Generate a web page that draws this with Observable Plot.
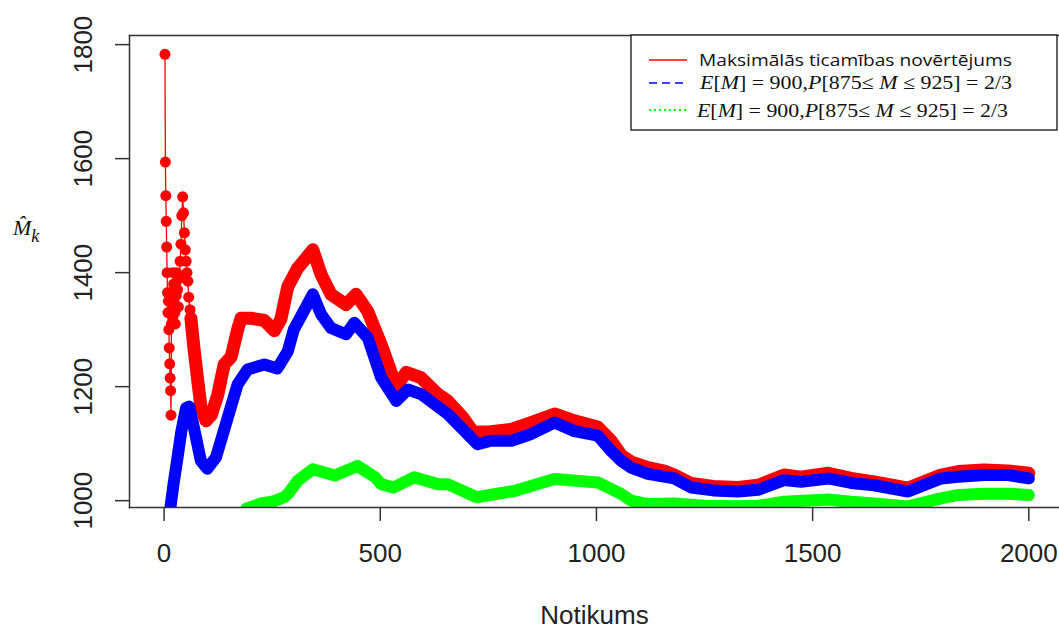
<!DOCTYPE html>
<html><head><meta charset="utf-8">
<script src="https://cdn.jsdelivr.net/npm/d3@7"></script>
<script src="https://cdn.jsdelivr.net/npm/@observablehq/plot@0.6"></script>
<style>body{margin:0;background:#fff;} svg{display:block;}</style>
</head><body><div id="chart"></div>
<script>
const xTicks = [0, 500, 1000, 1500, 2000];
const yTicks = [1000, 1200, 1400, 1600, 1800];
const xLabel = "Notikums";
const legendLabels = ["Maksimālās ticamības novērtējums", "E[M] = 900,P[875≤ M ≤ 925] = 2/3", "E[M] = 900,P[875≤ M ≤ 925] = 2/3"];

// red: maximum likelihood estimate, early scattered values
const redEarlyX = [2,3,4,5,6,7,8,9,10,11,12,13,14,15,16,17,18,19,20,21,22,23,24,25,26,27,28,29,31,33,35,37,39,41,43,45,47,49,51,53,55,57,60];
const redEarlyY = [1783,1594,1535,1490,1445,1400,1365,1330,1350,1300,1268,1240,1215,1193,1150,1310,1330,1350,1320,1400,1380,1360,1340,1330,1310,1380,1360,1400,1370,1340,1390,1420,1450,1500,1533,1505,1470,1440,1420,1400,1385,1357,1335];
// red: rest of the series
const redX = [62,69,78,86,97,109,124,139,155,170,178,201,232,255,270,286,309,328,344,363,386,421,444,471,502,537,560,594,633,656,691,715,756,803,849,903,949,1003,1034,1057,1080,1119,1157,1180,1219,1270,1328,1374,1434,1473,1536,1589,1642,1721,1797,1837,1897,1952,2000];
const redY = [1320,1268,1210,1160,1140,1150,1185,1239,1252,1300,1320,1320,1316,1298,1318,1375,1408,1425,1440,1397,1362,1344,1362,1332,1274,1200,1225,1216,1187,1175,1146,1120,1121,1125,1137,1152,1140,1129,1105,1080,1068,1058,1052,1045,1030,1025,1023,1027,1045,1041,1048,1039,1033,1022,1045,1051,1054,1052,1048];
// blue
const blueX = [15,22,30,40,51,58,69,85,100,120,136,147,170,193,232,262,286,300,344,363,386,421,440,471,502,537,564,594,656,725,756,803,849,903,949,1003,1034,1057,1080,1119,1180,1219,1270,1328,1374,1434,1473,1536,1589,1642,1721,1797,1837,1897,1952,2000];
const blueY = [990,1030,1070,1122,1163,1165,1128,1070,1056,1076,1117,1145,1204,1230,1239,1232,1262,1300,1362,1327,1303,1292,1312,1286,1216,1175,1195,1187,1152,1099,1105,1105,1117,1137,1122,1114,1087,1070,1058,1047,1039,1023,1018,1016,1019,1036,1033,1039,1031,1027,1016,1039,1042,1045,1045,1039];
// green
const greenX = [190,224,250,278,290,309,344,395,447,488,502,530,578,633,656,723,810,903,1003,1057,1080,1119,1180,1250,1328,1374,1434,1536,1589,1642,1721,1797,1837,1897,1952,2000];
const greenY = [986,995,998,1006,1015,1035,1055,1044,1061,1041,1029,1023,1041,1029,1029,1006,1017,1038,1032,1012,1000,994,995,991,990,991,998,1002,998,995,990,1004,1010,1012,1012,1010];

const RED = "#ff0000", BLUE = "#0000ff", GREEN = "#00ff00";
const toRows = (xs, ys) => xs.map((x, i) => ({x, y: ys[i]}));
const redEarly = toRows(redEarlyX, redEarlyY);
const redMain = toRows(redX, redY);
const redAll = redEarly.concat(redMain);
const blue = toRows(blueX, blueY);
const green = toRows(greenX, greenY);

const chart = Plot.plot({
  width: 1059, height: 628,
  marginTop: 35, marginBottom: 121, marginLeft: 129, marginRight: 0,
  x: {domain: [-80, 2071]},
  y: {domain: [988, 1816]},
  style: {fontFamily: "Liberation Sans", background: "white", color: "#222", overflow: "visible"},
  marks: [
    Plot.line(redAll, {x: "x", y: "y", stroke: RED, strokeWidth: 1.3, clip: true}),
    Plot.dot(redEarly, {x: "x", y: "y", r: 5.5, fill: RED, clip: true}),
    Plot.line(redMain, {x: "x", y: "y", stroke: RED, strokeWidth: 13, strokeLinejoin: "round", strokeLinecap: "round", clip: true}),
    Plot.line(blue, {x: "x", y: "y", stroke: BLUE, strokeWidth: 12, strokeLinejoin: "round", strokeLinecap: "round", clip: true}),
    Plot.line(green, {x: "x", y: "y", stroke: GREEN, strokeWidth: 12, strokeLinejoin: "round", strokeLinecap: "round", clip: true}),
    Plot.frame({anchor: "top", stroke: "#333", strokeWidth: 1.5}),
    Plot.frame({anchor: "left", stroke: "#333", strokeWidth: 1.5}),
    Plot.frame({anchor: "bottom", stroke: "#333", strokeWidth: 1.5}),
    Plot.axisX({ticks: xTicks, tickSize: 14, tickPadding: 22, fontSize: 26, label: null, stroke: "#333", strokeWidth: 1.5, tickFormat: d => String(d)}),
    Plot.axisY({ticks: yTicks, tickSize: 14, label: null, stroke: "#333", strokeWidth: 1.5, tickFormat: () => ""}),
    Plot.text(yTicks, {y: d => d, text: d => String(d), frameAnchor: "left", dx: -45.5, rotate: -90, fontSize: 26, textAnchor: "middle", lineAnchor: "middle", fill: "#222"}),
    Plot.text([xLabel], {text: d => d, frameAnchor: "bottom", dy: 116, lineAnchor: "bottom", fontSize: 26, fill: "#222"})
  ]
});
document.getElementById("chart").appendChild(chart);

const svg = d3.select(chart);
// y axis label: M-hat with subscript k
const yl = svg.append("text").attr("x", 13).attr("y", 235).attr("text-anchor", "start")
  .attr("font-family", "Liberation Serif").attr("font-style", "italic").attr("font-size", 22).attr("fill", "#111");
yl.append("tspan").text("M\u0302");
yl.append("tspan").attr("dy", 7).attr("font-size", 18).text("k");

// legend
const lg = svg.append("g").attr("text-anchor", "start");
lg.append("rect").attr("x", 631).attr("y", 35).attr("width", 426).attr("height", 95)
  .attr("fill", "white").attr("stroke", "#111").attr("stroke-width", 1.3);
const rows = [
  {y: 60, color: RED, dash: null, width: 1.5},
  {y: 83, color: BLUE, dash: "8,5", width: 1.5},
  {y: 110, color: GREEN, dash: "2,3", width: 1.8}
];
rows.forEach(r => {
  lg.append("line").attr("x1", 649).attr("x2", 687).attr("y1", r.y).attr("y2", r.y)
    .attr("stroke", r.color).attr("stroke-width", r.width).attr("stroke-dasharray", r.dash);
});
lg.append("text").attr("x", 699).attr("y", 66).attr("text-anchor", "start").attr("font-family", "Open Sans").attr("font-size", 17)
  .attr("fill", "#111").attr("textLength", 313).attr("lengthAdjust", "spacingAndGlyphs").text(legendLabels[0]);

function mathText(x, y, width, label) {
  const t = lg.append("text").attr("x", x).attr("y", y).attr("text-anchor", "start").attr("font-family", "Liberation Serif")
    .attr("font-size", 19).attr("fill", "#111").attr("textLength", width).attr("lengthAdjust", "spacingAndGlyphs");
  const parts = label.match(/[A-Z]|[^A-Z]+/g);
  parts.forEach(p => {
    const s = t.append("tspan").text(p);
    if (/^[A-Z]$/.test(p)) s.attr("font-style", "italic");
  });
}
mathText(700, 89, 312, legendLabels[1]);
mathText(697, 117, 311, legendLabels[2]);
</script>
</body></html>
